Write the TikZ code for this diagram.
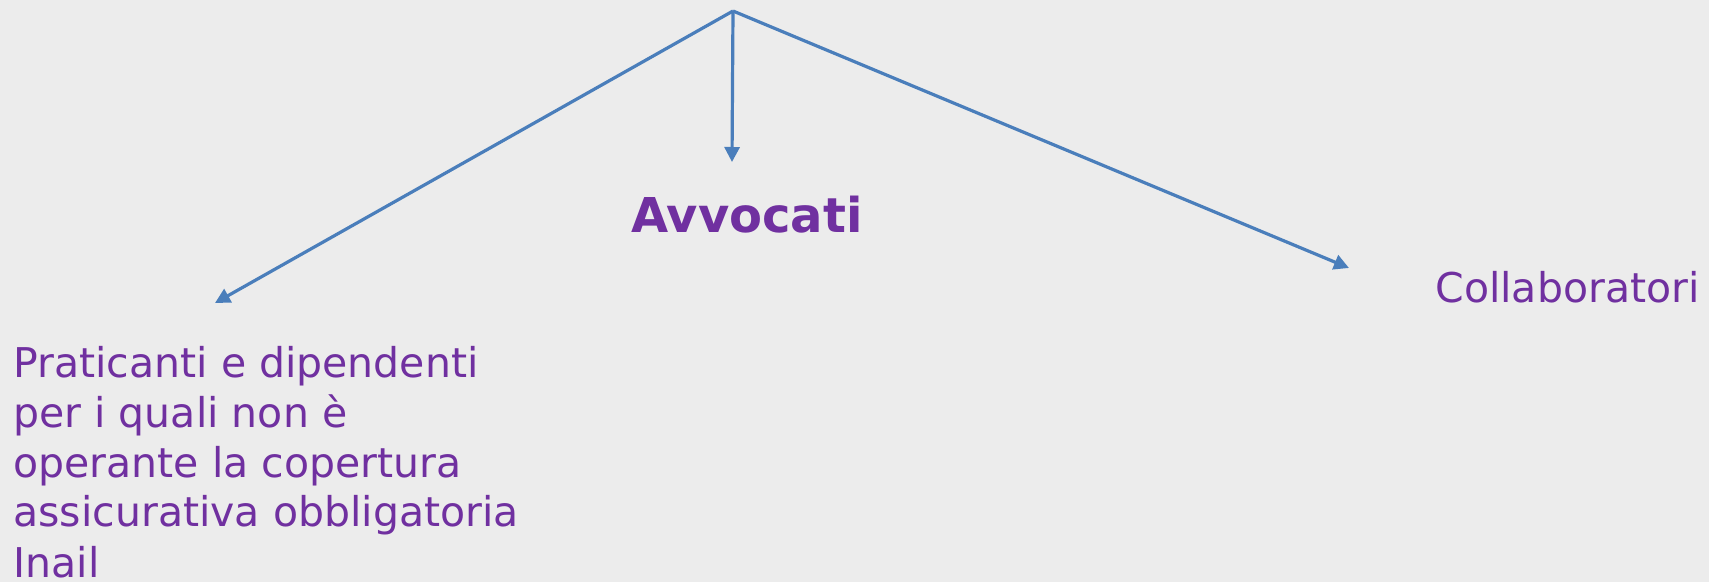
\documentclass[tikz,border=0pt]{standalone}
\usepackage{fontspec}
\setmainfont{DejaVu Sans}
\usetikzlibrary{arrows.meta}
\definecolor{bgc}{HTML}{ECECEC}
\definecolor{txtc}{HTML}{7030A0}
\definecolor{arrc}{HTML}{4A7EBB}
\tikzset{
  lbl/.style={text=txtc, inner sep=0pt, anchor=base west, align=left},
  conn/.style={draw=arrc, line width=1.6pt, -{Triangle[length=7.5pt,width=7.5pt]}}
}
\begin{document}
\begin{tikzpicture}[x=0.5pt,y=-0.5pt]
\fill[bgc] (0,0) rectangle (1709,582);
\useasboundingbox (0,0) rectangle (1709,582);
\coordinate (apex) at (733,11);
\coordinate (lt) at (215,303);
\coordinate (mt) at (732,162);
\coordinate (rt) at (1349,268);
\node[lbl, font=\fontsize{24}{28}\selectfont\bfseries] (avv) at (631,233) {Avvocati};
\node[lbl, font=\fontsize{20.5}{24.5}\selectfont] (coll) at (1435,303) {Collaboratori};
\node[lbl, font=\fontsize{20.5}{25}\selectfont] (prat) at (13,577) {Praticanti e dipendenti\\per i quali non è\\operante la copertura\\assicurativa obbligatoria\\Inail};
\draw[conn] (apex) -- (lt);
\draw[conn] (apex) -- (mt);
\draw[conn] (apex) -- (rt);
\end{tikzpicture}
\end{document}
